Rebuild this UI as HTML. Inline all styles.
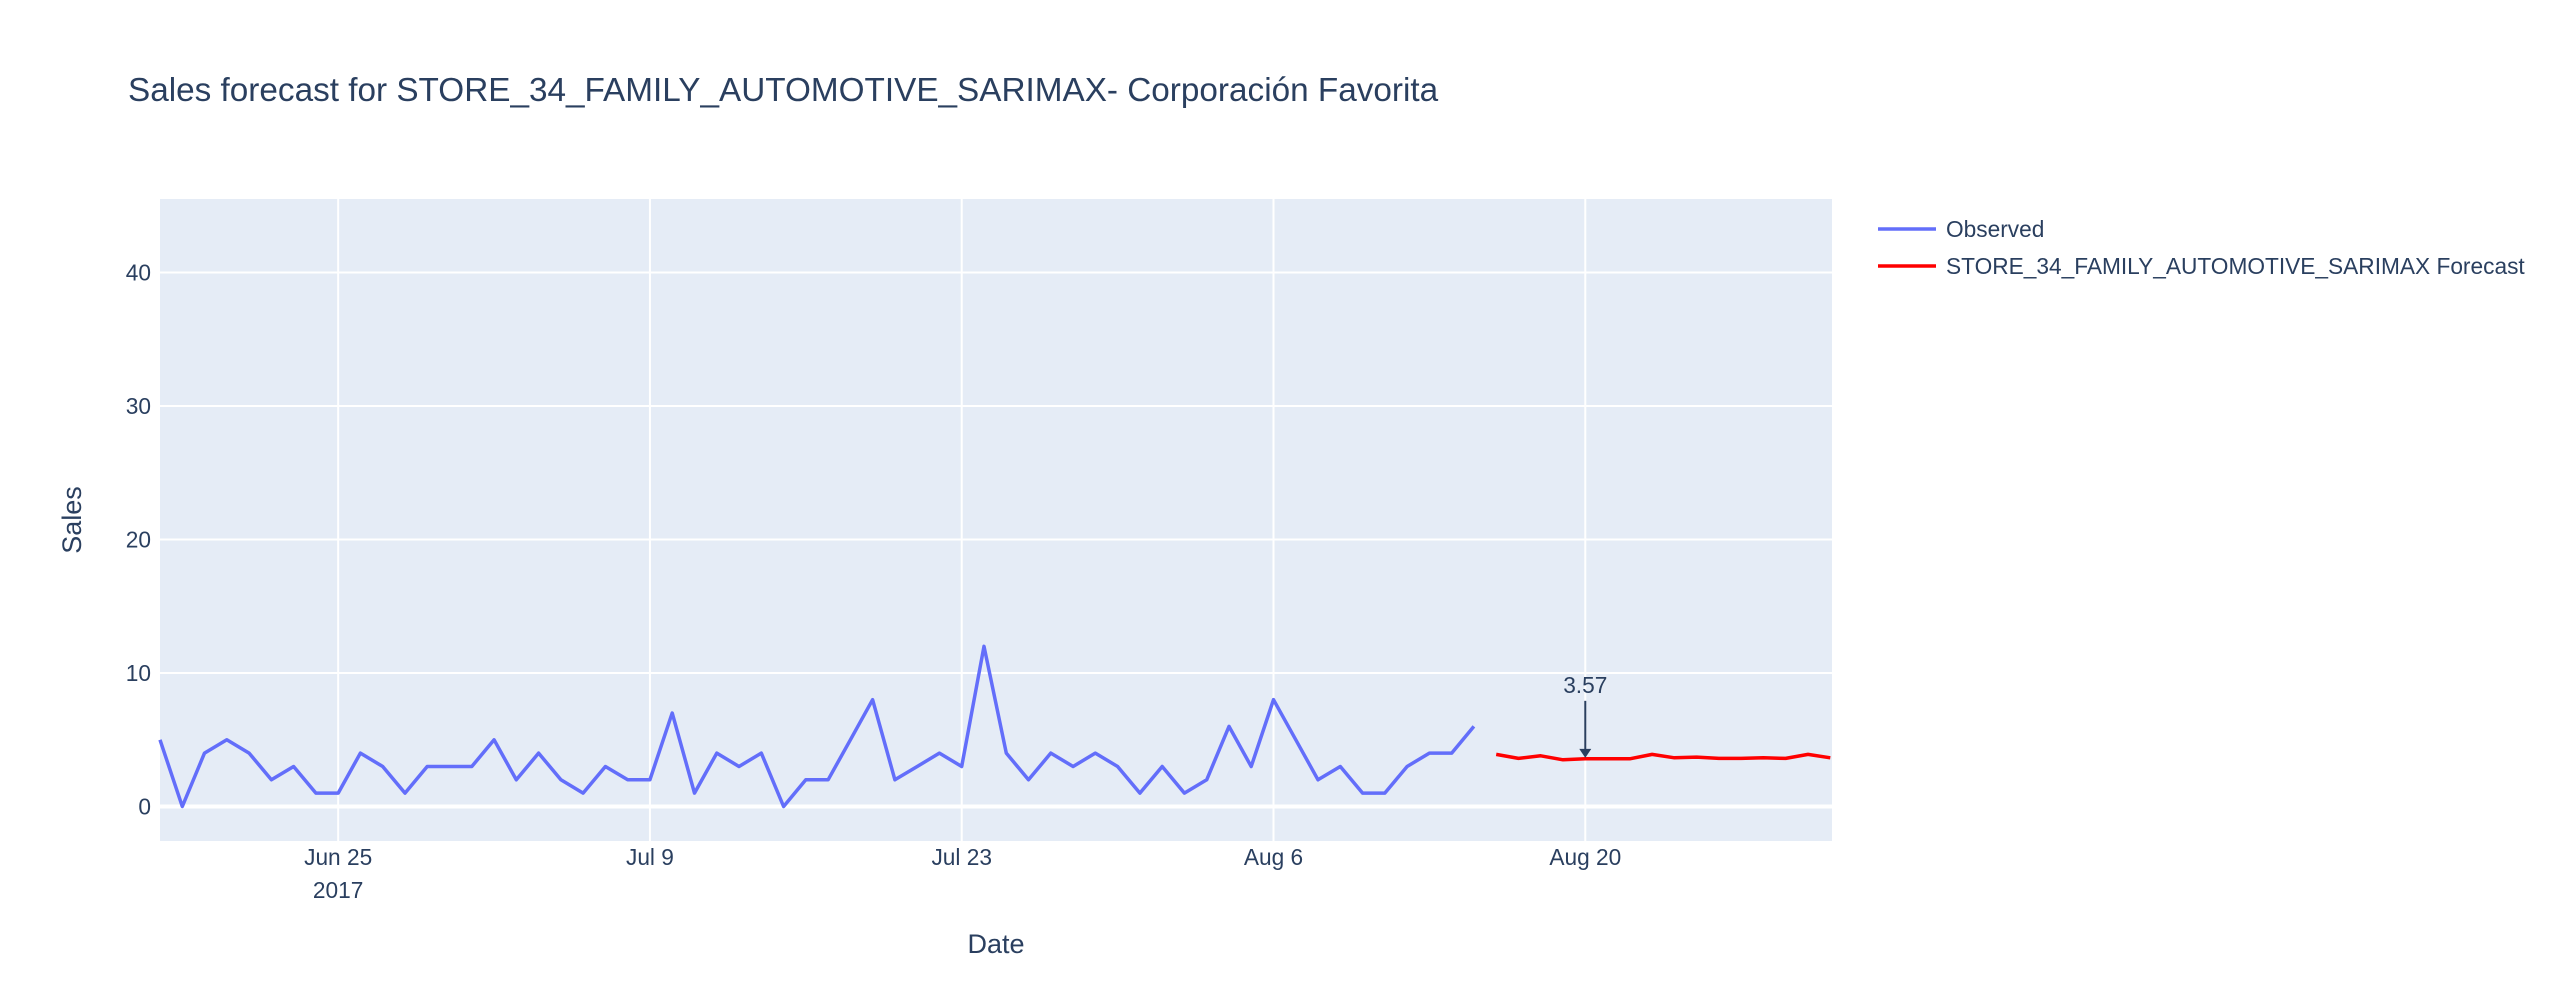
<!DOCTYPE html>
<html><head><meta charset="utf-8"><style>
html,body{margin:0;padding:0;background:#fff;}
svg text{font-family:"Liberation Sans","Open Sans",sans-serif;fill:#2a3f5f;}
</style></head><body>
<svg id="chart" width="2560" height="1000" viewBox="0 0 2560 1000" xmlns="http://www.w3.org/2000/svg">
<rect width="2560" height="1000" fill="#fff"/>
<text x="128" y="101" font-size="33.3">Sales forecast for STORE_34_FAMILY_AUTOMOTIVE_SARIMAX- Corporación Favorita</text>
<rect x="160" y="199" width="1672" height="642" fill="#e5ecf6"/>
<g id="grid"></g>
<g id="series"></g>
<g id="axes"></g>
<text x="996" y="953" font-size="27" text-anchor="middle">Date</text>
<text x="0" y="0" font-size="27" text-anchor="middle" transform="translate(81,520) rotate(-90)">Sales</text>
<g>
 <line x1="1878" y1="229" x2="1936" y2="229" stroke="#636efa" stroke-width="3.5"/>
 <text x="1946" y="237" font-size="22.7">Observed</text>
 <line x1="1878" y1="266" x2="1936" y2="266" stroke="#ff0000" stroke-width="3.5"/>
 <text x="1946" y="274" font-size="22.7">STORE_34_FAMILY_AUTOMOTIVE_SARIMAX Forecast</text>
</g>
</svg>
<script>
const observedStart = "2017-06-17";
const observedValues = [5,0,4,5,4,2,3,1,1,4,3,1,3,3,3,5,2,4,2,1,3,2,2,7,1,4,3,4,0,2,2,5,8,2,3,4,3,12,4,2,4,3,4,3,1,3,1,2,6,3,8,5,2,3,1,1,3,4,4,6];
const forecastStart = "2017-08-16";
const forecastValues = [3.9,3.6,3.8,3.5,3.57,3.57,3.57,3.9,3.65,3.7,3.6,3.6,3.65,3.6,3.9,3.65];
const yTicks = [0,10,20,30,40];
const xTickDates = ["2017-06-25","2017-07-09","2017-07-23","2017-08-06","2017-08-20"];
const xTickLabels = ["Jun 25","Jul 9","Jul 23","Aug 6","Aug 20"];
const annotationDate = "2017-08-20";
const annotationValue = 3.57;

const NS="http://www.w3.org/2000/svg";
const X0=Date.parse("2017-06-17"), PX0=160, PXD=22.27;
function xs(d){return PX0+(Date.parse(d)-X0)/86400000*PXD;}
function ys(v){return 806.5-v*13.35;}
function dayAdd(d,i){return new Date(Date.parse(d)+i*86400000).toISOString().slice(0,10);}
function mk(tag,attrs,parent){const e=document.createElementNS(NS,tag);for(const k in attrs)e.setAttribute(k,attrs[k]);parent.appendChild(e);return e;}
const grid=document.getElementById('grid'),axes=document.getElementById('axes'),ser=document.getElementById('series');
xTickDates.forEach((d,i)=>{
  const x=xs(d);
  const l=mk('line',{x1:x,x2:x,y1:199,y2:841,stroke:'#fff','stroke-width':2},grid);
  
  
  const t=mk('text',{x:x,y:865,'font-size':22.7,'text-anchor':'middle'},axes);
  t.textContent=xTickLabels[i];
  
  
});
const yr=mk('text',{x:xs(xTickDates[0]),y:898,'font-size':22.7,'text-anchor':'middle'},axes);
yr.textContent="2017";


yTicks.forEach(v=>{
  const y=ys(v);
  const l=mk('line',{x1:160,x2:1832,y1:y,y2:y,stroke:'#fff','stroke-width':v===0?4:2},grid);
  
  
  const t=mk('text',{x:151,y:y+8,'font-size':22.7,'text-anchor':'end'},axes);
  t.textContent=String(v);
  
  
});
function line(start,vals,color,name){
  const pts=vals.map((v,i)=>xs(dayAdd(start,i)).toFixed(1)+','+ys(v).toFixed(1)).join(' ');
  const p=mk('polyline',{points:pts,fill:'none',stroke:color,'stroke-width':3.5,'stroke-linejoin':'round'},ser);
  
  
}
line(observedStart,observedValues,'#636efa','observed-line');
line(forecastStart,forecastValues,'#ff0000','forecast-line');
const ax=xs(annotationDate),ay=ys(annotationValue);
const ar=mk('line',{x1:ax,x2:ax,y1:ay-58,y2:ay-8,stroke:'#2a3f5f','stroke-width':2},ser);


const ah=mk('path',{d:`M${ax-6},${ay-10} L${ax+6},${ay-10} L${ax},${ay-1} Z`,fill:'#2a3f5f'},ser);


const at=mk('text',{x:ax,y:ay-66,'font-size':22.7,'text-anchor':'middle'},ser);
at.textContent=annotationValue.toFixed(2);


</script>
</body></html>
